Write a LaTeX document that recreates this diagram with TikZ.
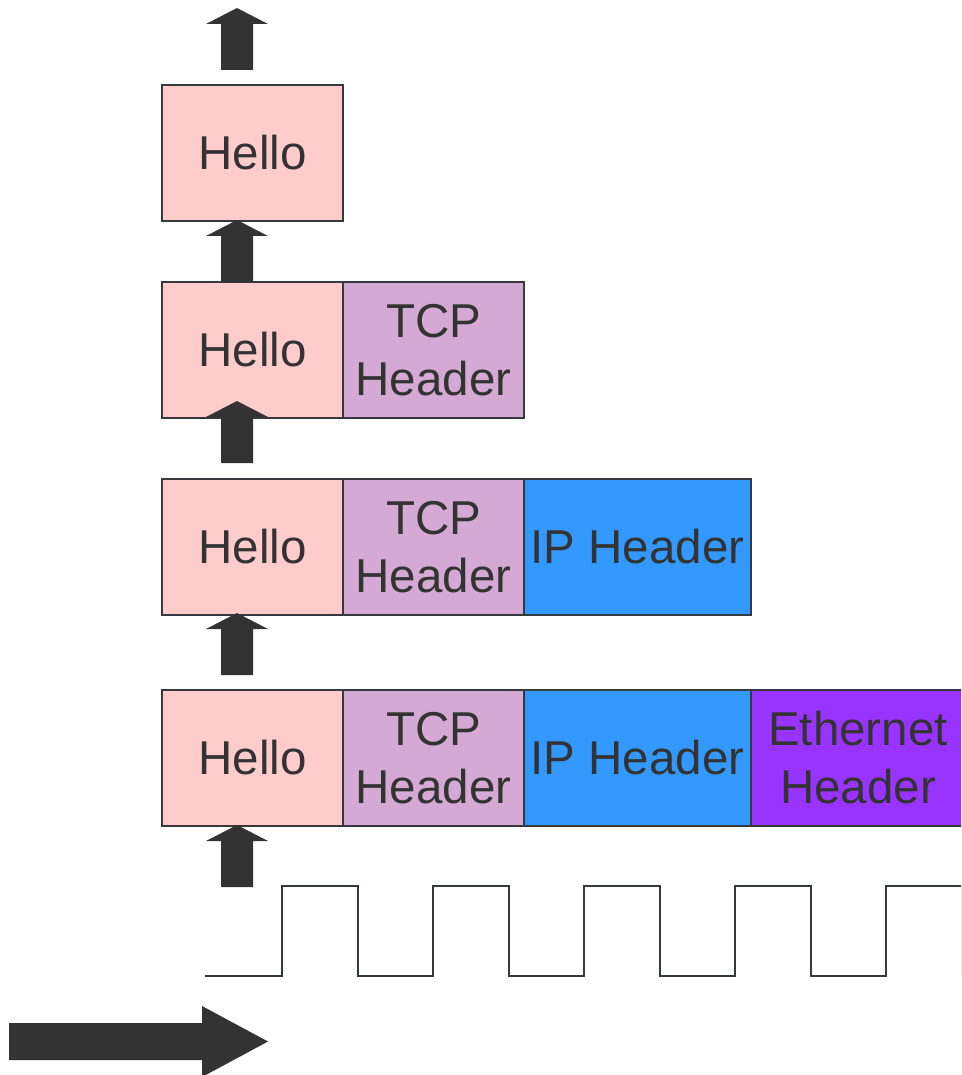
\documentclass[tikz,border=0pt]{standalone}
\usepackage{fontspec}
\setmainfont{Liberation Sans}
\definecolor{linec}{HTML}{36393D}
\definecolor{txtc}{HTML}{333333}
\definecolor{hellof}{HTML}{FFCCCC}
\definecolor{tcpf}{HTML}{D4A9D4}
\definecolor{ipf}{HTML}{3399FF}
\definecolor{ethf}{HTML}{9933FF}
\definecolor{arrc}{HTML}{333333}
\tikzset{
  layer/.style={draw=linec, line width=2pt, rectangle, anchor=north west, inner sep=0pt,
    minimum height=136pt, text=txtc, align=center,
    font=\fontsize{47.5}{58}\selectfont},
  hello/.style={layer, fill=hellof, minimum width=181pt},
  tcp/.style={layer, fill=tcpf, minimum width=181pt},
  ip/.style={layer, fill=ipf, minimum width=227pt},
  eth/.style={layer, fill=ethf, minimum width=214pt},
  arrfill/.style={fill=arrc},
  wave/.style={draw=linec, line width=2pt},
  uparrow/.pic={\fill[arrfill] (-16,0) -- (-16,-46) -- (-31,-46) -- (0,-62) -- (31,-46) -- (16,-46) -- (16,0) -- cycle;}
}
\begin{document}
\begin{tikzpicture}[x=1pt,y=-1pt]
\useasboundingbox (0,0) rectangle (961,1075);
\clip (0,0) rectangle (961,1075);
\fill[white] (0,0) rectangle (961,1075);
% row 1
\node[hello] (h1) at (161,84) {Hello};
% row 2
\node[hello] (h2) at (161,281) {Hello};
\node[tcp] (t2) at (342,281) {TCP\\Header};
% row 3
\node[hello] (h3) at (161,478) {Hello};
\node[tcp] (t3) at (342,478) {TCP\\Header};
\node[ip] (i3) at (523,478) {IP Header};
% row 4
\node[hello] (h4) at (161,689) {Hello};
\node[tcp] (t4) at (342,689) {TCP\\Header};
\node[ip] (i4) at (523,689) {IP Header};
\node[eth] (e4) at (750,689) {Ethernet\\Header};
% up arrows
\pic at (237,70) {uparrow};
\pic at (237,282) {uparrow};
\pic at (237,463) {uparrow};
\pic at (237,675) {uparrow};
\pic at (237,887) {uparrow};
% square wave
\draw[wave] (205,976) -- (282,976) -- (282,886) -- (358,886) -- (358,976)
  -- (433,976) -- (433,886) -- (509,886) -- (509,976)
  -- (584,976) -- (584,886) -- (660,886) -- (660,976)
  -- (735,976) -- (735,886) -- (811,886) -- (811,976)
  -- (886,976) -- (886,886) -- (962,886) -- (962,976);
% big right arrow
\fill[arrfill] (9,1023) -- (202,1023) -- (202,1006) -- (268,1041.5) -- (202,1077) -- (202,1060) -- (9,1060) -- cycle;
\end{tikzpicture}
\end{document}
